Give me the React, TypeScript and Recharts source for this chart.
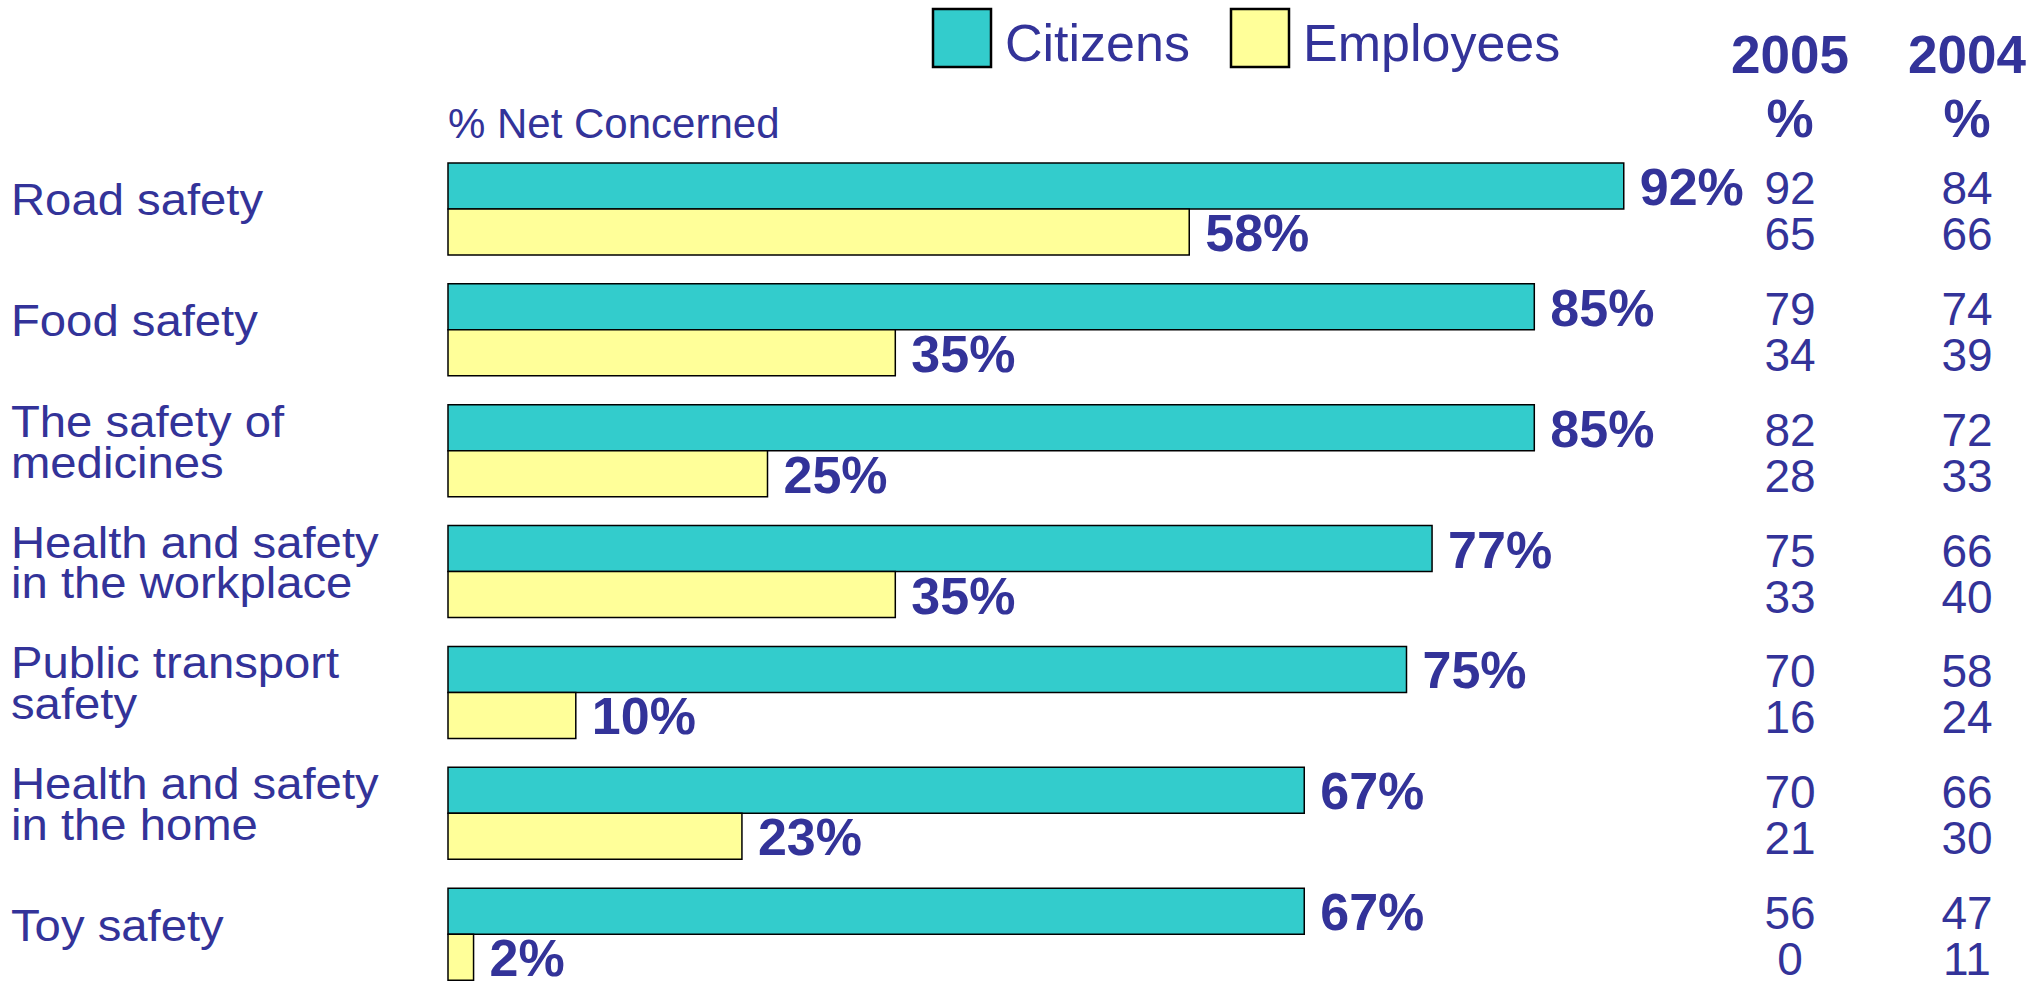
import React from "react";
import { BarChart, Bar, XAxis, YAxis, LabelList } from "recharts";

const categories = [
  "Road safety",
  "Food safety",
  "The safety of\nmedicines",
  "Health and safety\nin the workplace",
  "Public transport\nsafety",
  "Health and safety\nin the home",
  "Toy safety",
];
const citizens = [92, 85, 85, 77, 75, 67, 67];
const employees = [58, 35, 25, 35, 10, 23, 2];
const citizens2005 = [92, 79, 82, 75, 70, 70, 56];
const employees2005 = [65, 34, 28, 33, 16, 21, 0];
const citizens2004 = [84, 74, 72, 66, 58, 66, 47];
const employees2004 = [66, 39, 33, 40, 24, 30, 11];

const series = [
  { key: "citizens", name: "Citizens", color: "#33CCCC" },
  { key: "employees", name: "Employees", color: "#FFFF99" },
];

const data = categories.map((name, i) => ({
  name,
  citizens: citizens[i],
  employees: employees[i],
  c2005: citizens2005[i],
  e2005: employees2005[i],
  c2004: citizens2004[i],
  e2004: employees2004[i],
}));

const FONT = "'Liberation Sans', Arial, sans-serif";
const INK = "#333399";
const COL_2005 = 1790;
const COL_2004 = 1967;

// the source art is a little wider than plain Arial, so stretch the labels
const CategoryTick = (props: any) => {
  const { y, payload } = props;
  const lines = String(payload.value).split("\n");
  const first = y - (lines.length - 1) * 20.5 + 6;
  return (
    <text
      transform={`translate(11 ${first}) scale(1.05 1)`}
      fill={INK}
      fontSize={45}
      fontFamily={FONT}
    >
      {lines.map((line, i) => (
        <tspan key={i} x={0} y={i * 41}>
          {line}
        </tspan>
      ))}
    </text>
  );
};

const percentLabel = (props: any) => {
  const { x, y, width, height, value } = props;
  return (
    <text
      x={x + width + 16}
      y={y + height / 2 + 19}
      fill={INK}
      fontSize={52}
      fontWeight="bold"
      fontFamily={FONT}
    >
      {value}%
    </text>
  );
};

const columnLabel = (colX: number) => (props: any) => {
  const { y, height, value } = props;
  return (
    <text
      x={colX}
      y={y + height / 2 + 18}
      fill={INK}
      fontSize={46}
      fontFamily={FONT}
      textAnchor="middle"
    >
      {value}
    </text>
  );
};

export default function App() {
  return (
    <div
      style={{
        position: "absolute",
        left: 0,
        top: 0,
        width: 2031,
        height: 989,
        overflow: "hidden",
        background: "#fff",
      }}
    >
      <BarChart
        width={2031}
        height={1000}
        data={data}
        layout="vertical"
        barGap={0}
        margin={{ top: 149, right: 305, bottom: 5, left: 8 }}
      >
        <XAxis type="number" domain={[0, 100]} hide />
        <YAxis
          type="category"
          dataKey="name"
          width={440}
          axisLine={false}
          tickLine={false}
          interval={0}
          tick={<CategoryTick />}
        />
        <Bar dataKey="citizens" fill="#33CCCC" stroke="#000" strokeWidth={1.5} barSize={46} isAnimationActive={false}>
          <LabelList dataKey="citizens" content={percentLabel} />
          <LabelList dataKey="c2005" content={columnLabel(COL_2005)} />
          <LabelList dataKey="c2004" content={columnLabel(COL_2004)} />
        </Bar>
        <Bar dataKey="employees" fill="#FFFF99" stroke="#000" strokeWidth={1.5} barSize={46} isAnimationActive={false}>
          <LabelList dataKey="employees" content={percentLabel} />
          <LabelList dataKey="e2005" content={columnLabel(COL_2005)} />
          <LabelList dataKey="e2004" content={columnLabel(COL_2004)} />
        </Bar>
      </BarChart>

      <svg
        width={2031}
        height={150}
        style={{ position: "absolute", left: 0, top: 0, pointerEvents: "none" }}
        fontFamily={FONT}
      >
        {series.map((s, i) => {
          const x = i === 0 ? 933 : 1231;
          return (
            <g key={s.key}>
              <rect x={x} y={9} width={58} height={58} fill={s.color} stroke="#000" strokeWidth={2.5} />
              <text x={x + 72} y={61} fill={INK} fontSize={52}>
                {s.name}
              </text>
            </g>
          );
        })}
        <text x={448} y={138} fill={INK} fontSize={42}>
          % Net Concerned
        </text>
        {[
          { year: "2005", x: COL_2005 },
          { year: "2004", x: COL_2004 },
        ].map((h) => (
          <g key={h.year}>
            <text x={h.x} y={73} fill={INK} fontSize={53} fontWeight="bold" textAnchor="middle">
              {h.year}
            </text>
            <text x={h.x} y={137} fill={INK} fontSize={53} fontWeight="bold" textAnchor="middle">
              %
            </text>
          </g>
        ))}
      </svg>
    </div>
  );
}
